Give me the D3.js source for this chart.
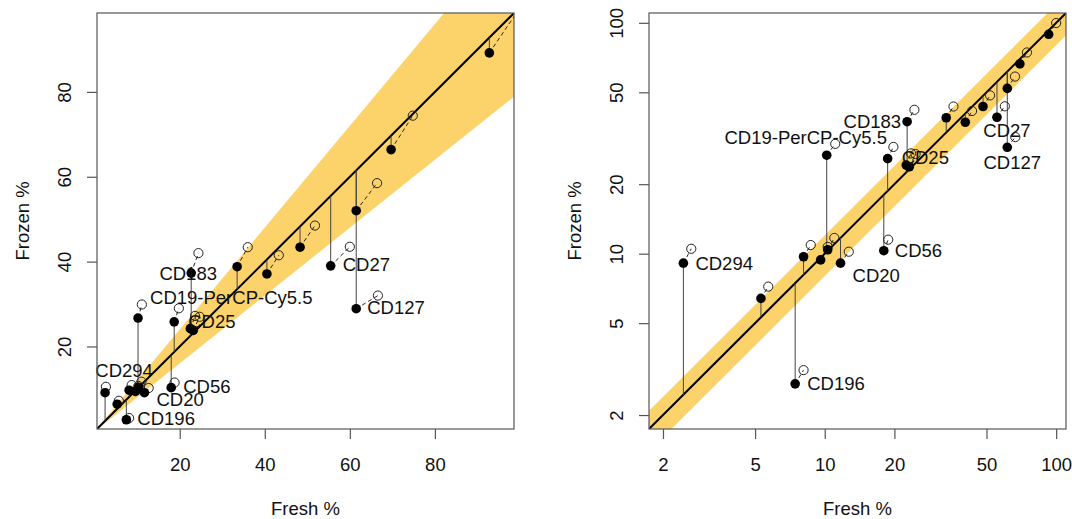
<!DOCTYPE html>
<html>
<head>
<meta charset="utf-8">
<script src="https://cdn.jsdelivr.net/npm/d3@7"></script>
<style>
  body { margin: 0; background: #fff; }
  svg { font-family: "Liberation Sans", Arial, sans-serif; }
</style>
</head>
<body>
<script>
// fresh vs frozen staining, one row per marker (empty name = unlabelled)
const markers = ['CD294', '', 'CD196', '', '', '', 'CD20', 'CD56', 'CD19-PerCP-Cy5.5', 'CD25',
  '', '', 'CD183', '', '', '', 'CD27', 'CD127', '', '', ''];
const fresh = [2.45, 5.3, 7.45, 8.1, 9.6, 10.3, 11.7, 18.0, 10.2, 18.7,
  22.5, 23.2, 22.7, 33.5, 40.5, 48.3, 55.5, 61.5, 61.5, 69.7, 92.8];
const frozen = [9.1, 6.4, 2.73, 9.7, 9.4, 10.4, 9.1, 10.3, 26.7, 25.8,
  24.2, 23.8, 37.3, 38.8, 37.1, 43.4, 39.0, 28.9, 52.0, 66.4, 89.2];
// open circles (second measurement)
const freshOpen = [2.65, 5.7, 8.1, 8.7, 10.3, 11.0, 12.7, 18.8, 11.1, 19.8,
  23.6, 24.7, 24.4, 36.0, 43.3, 51.8, 60.0, 66.6, 66.4, 74.8, 100];
const frozenOpen = [10.5, 7.2, 3.13, 10.9, 10.7, 11.7, 10.2, 11.5, 29.9, 29.0,
  27.2, 27.0, 42.0, 43.4, 41.5, 48.5, 43.5, 32.0, 58.5, 74.4, 99.8];

const linTicks = [20, 40, 60, 80];
const logTicks = [2, 5, 10, 20, 50, 100];
const bandLow = 0.8;
const bandHigh = 1.2;

const width = 1072;
const height = 519;

const rows = markers.map((m, i) => ({
  name: m, fx: fresh[i], fy: frozen[i], ox: freshOpen[i], oy: frozenOpen[i]
}));

const svg = d3.select('body').append('svg')
  .attr('width', width)
  .attr('height', height);

const panels = [
  {
    id: 'lin', scale: d3.scaleLinear, domain: [0.55, 98.6], ticks: linTicks,
    left: 97, right: 514,
    labels: {
      'CD294': ['middle', 19, -22],
      'CD196': ['start', 11, -1],
      'CD20': ['start', 12, 7],
      'CD56': ['start', 12, -1],
      'CD25': ['start', 14, 0],
      'CD19-PerCP-Cy5.5': ['start', 12, -21],
      'CD183': ['middle', -3, 0],
      'CD27': ['start', 12, -1],
      'CD127': ['start', 11, -1]
    }
  },
  {
    id: 'log', scale: d3.scaleLog, domain: [1.74, 110.3], ticks: logTicks,
    left: 649, right: 1066,
    labels: {
      'CD294': ['start', 12, 0],
      'CD196': ['start', 12, 0],
      'CD20': ['start', 12, 12],
      'CD56': ['start', 11, 0],
      'CD25': ['start', 14, -1],
      'CD19-PerCP-Cy5.5': ['middle', -21, -18],
      'CD183': ['end', -6, 0],
      'CD27': ['middle', 10, 13],
      'CD127': ['middle', 5, 15]
    }
  }
];

const plotTop = 13;
const plotBottom = 429;
const fontSize = '18.5px';

panels.forEach(drawPanel);

function drawPanel(p) {
  const x = p.scale().domain(p.domain).range([p.left, p.right]);
  const y = p.scale().domain(p.domain).range([plotBottom, plotTop]);
  const [d0, d1] = p.domain;

  svg.append('clipPath')
    .attr('id', 'clip-' + p.id)
    .append('rect')
      .attr('x', p.left)
      .attr('y', plotTop)
      .attr('width', p.right - p.left)
      .attr('height', plotBottom - plotTop);

  const plot = svg.append('g')
    .attr('clip-path', `url(#clip-${p.id})`);

  // +/- 20% band round the identity line
  const band = [
    [x(d0), y(d0 * bandLow)], [x(d1), y(d1 * bandLow)],
    [x(d1), y(d1 * bandHigh)], [x(d0), y(d0 * bandHigh)]
  ];
  plot.append('polygon')
    .attr('points', band.map(d => d.join(',')).join(' '))
    .style('fill', '#fcd36a');

  plot.append('line')
    .attr('x1', x(d0)).attr('y1', y(d0))
    .attr('x2', x(d1)).attr('y2', y(d1))
    .style('stroke', '#000')
    .style('stroke-width', 2);

  // drop lines to the diagonal
  plot.append('g')
    .selectAll('line')
    .data(rows)
    .enter().append('line')
      .attr('x1', d => x(d.fx)).attr('y1', d => y(d.fy))
      .attr('x2', d => x(d.fx)).attr('y2', d => y(d.fx))
      .style('stroke', '#444')
      .style('stroke-width', 1);

  plot.append('g')
    .selectAll('line')
    .data(rows)
    .enter().append('line')
      .attr('x1', d => x(d.fx)).attr('y1', d => y(d.fy))
      .attr('x2', d => x(d.ox)).attr('y2', d => y(d.oy))
      .style('stroke', '#222')
      .style('stroke-width', 1)
      .style('stroke-dasharray', '4,3');

  plot.append('g')
    .selectAll('circle')
    .data(rows)
    .enter().append('circle')
      .attr('cx', d => x(d.ox))
      .attr('cy', d => y(d.oy))
      .attr('r', 4.6)
      .style('fill', 'none')
      .style('stroke', '#222')
      .style('stroke-width', 1);

  plot.append('g')
    .selectAll('circle')
    .data(rows)
    .enter().append('circle')
      .attr('cx', d => x(d.fx))
      .attr('cy', d => y(d.fy))
      .attr('r', 4.8)
      .style('fill', '#000');

  svg.append('g')
    .selectAll('text')
    .data(rows.filter(d => d.name))
    .enter().append('text')
      .attr('x', d => x(d.fx) + p.labels[d.name][1])
      .attr('y', d => y(d.fy) + p.labels[d.name][2])
      .attr('text-anchor', d => p.labels[d.name][0])
      .attr('dominant-baseline', 'central')
      .style('font-size', fontSize)
      .style('fill', '#111')
      .text(d => d.name);

  // box
  svg.append('rect')
    .attr('x', p.left)
    .attr('y', plotTop)
    .attr('width', p.right - p.left)
    .attr('height', plotBottom - plotTop)
    .style('fill', 'none')
    .style('stroke', '#555')
    .style('stroke-width', 1.2);

  const xAxis = svg.append('g')
    .attr('transform', `translate(0,${plotBottom})`)
    .call(d3.axisBottom(x).tickValues(p.ticks).tickSize(10).tickFormat(d3.format('d')));
  xAxis.select('.domain').remove();
  xAxis.selectAll('line').style('stroke', '#555').style('stroke-width', 1.2);
  xAxis.selectAll('text')
    .attr('y', 35)
    .attr('dy', null)
    .attr('dominant-baseline', 'central')
    .style('font-size', fontSize)
    .style('font-family', '"Liberation Sans", Arial, sans-serif')
    .style('fill', '#111');

  const yAxis = svg.append('g')
    .attr('transform', `translate(${p.left},0)`)
    .call(d3.axisLeft(y).tickValues(p.ticks).tickSize(10).tickFormat(d3.format('d')));
  yAxis.select('.domain').remove();
  yAxis.selectAll('line').style('stroke', '#555').style('stroke-width', 1.2);
  yAxis.selectAll('text')
    .attr('x', null)
    .attr('dy', null)
    .attr('text-anchor', 'middle')
    .attr('dominant-baseline', 'central')
    .attr('transform', 'translate(-33,0) rotate(-90)')
    .style('font-size', fontSize)
    .style('font-family', '"Liberation Sans", Arial, sans-serif')
    .style('fill', '#111');

  svg.append('text')
    .attr('x', (p.left + p.right) / 2)
    .attr('y', 508)
    .attr('text-anchor', 'middle')
    .attr('dominant-baseline', 'central')
    .style('font-size', fontSize)
    .style('fill', '#111')
    .text('Fresh %');

  svg.append('text')
    .attr('transform', `translate(${p.left - 75},${(plotTop + plotBottom) / 2}) rotate(-90)`)
    .attr('text-anchor', 'middle')
    .attr('dominant-baseline', 'central')
    .style('font-size', fontSize)
    .style('fill', '#111')
    .text('Frozen %');
}
</script>
</body>
</html>
